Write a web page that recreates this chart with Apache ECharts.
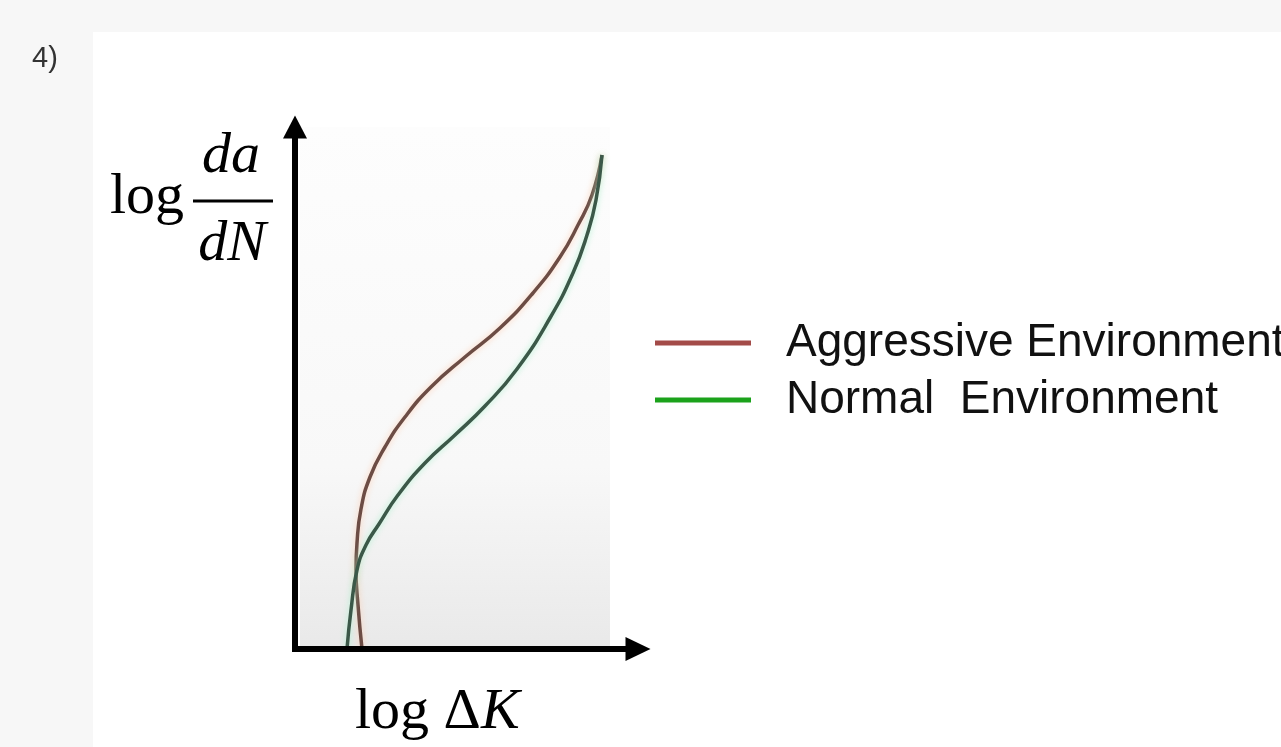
<!DOCTYPE html>
<html>
<head>
<meta charset="utf-8">
<title>log da/dN vs log dK</title>
<script src="https://cdn.jsdelivr.net/npm/echarts/dist/echarts.min.js"></script>
<style>
html,body{margin:0;padding:0;background:#f7f7f7;}
#main{width:1281px;height:747px;}
</style>
</head>
<body>
<div id="main"></div>
<script>
// curve points: [log dK, log da/dN] in plot units
var aggressive = [[67,0],[63,44],[61,79],[62,106],[66,140],[75,172],[90,202],[110,232],[136,262],
	[170,292],[205,321],[238,356],[265,392],[283,424],[297,454],[307,494]];
var normal = [[52,0],[56,39],[62,79],[71,104],[84,125],[103,154],[130,186],[160,214],[190,243],
	[222,280],[255,331],[278,376],[292,414],[301,449],[307,494]];
var seriesNames = ['Aggressive Environment', 'Normal  Environment'];
var curveColors = ['#6c4c44', '#3b5848'];
var legendColors = ['#a34b48', '#1ba21b'];
var xMax = 343, yMax = 522;
// shaded panel behind the curves (plot units)
var panelX = [5, 315];

function drawChart(id){
	var option = {
		backgroundColor: '#f7f7f7',
		animation: false,
		grid: {
			left: 295,
			top: 127,
			right: 643,
			bottom: 98
		},
		xAxis: {
			type: 'value',
			min: 0,
			max: xMax,
			z: 5,
			axisLine: {
				symbol: ['none', 'triangle'],
				symbolSize: [24, 25],
				lineStyle: {color: '#000', width: 6, cap: 'square'}
			},
			axisTick: {show: false},
			axisLabel: {show: false},
			splitLine: {show: false}
		},
		yAxis: {
			type: 'value',
			min: 0,
			max: yMax,
			z: 5,
			axisLine: {
				show: true,
				symbol: ['none', 'triangle'],
				symbolSize: [24, 23],
				lineStyle: {color: '#000', width: 6, cap: 'square'}
			},
			axisTick: {show: false},
			axisLabel: {show: false},
			splitLine: {show: false}
		},
		legend: {
			orient: 'vertical',
			left: 655,
			top: 320,
			padding: 0,
			icon: 'rect',
			itemWidth: 96,
			itemHeight: 5,
			itemGap: 11,
			textStyle: {
				fontFamily: 'Liberation Sans',
				fontSize: 46,
				color: '#111',
				padding: [0, 0, 0, 30]
			},
			data: [
				{name: seriesNames[0], itemStyle: {color: legendColors[0]}, lineStyle: {color: legendColors[0]}},
				{name: seriesNames[1], itemStyle: {color: legendColors[1]}, lineStyle: {color: legendColors[1]}}
			]
		},
		graphic: [
			{type: 'rect', z: -10, shape: {x: 93, y: 32, width: 1188, height: 715}, style: {fill: '#ffffff'}},
			{type: 'text', left: 32, top: 44, style: {text: '4)', font: '29px "Liberation Sans"', fill: '#333'}},
			{type: 'text', x: 110, y: 198, style: {text: 'log', font: '58px "Liberation Serif"', fill: '#000', verticalAlign: 'middle'}},
			{type: 'text', x: 231, y: 157, style: {text: 'da', font: 'italic 58px "Liberation Serif"', fill: '#000', align: 'center', verticalAlign: 'middle'}},
			{type: 'rect', shape: {x: 193, y: 199.5, width: 80, height: 3}, style: {fill: '#000'}},
			{type: 'text', x: 232, y: 245, style: {text: 'dN', font: 'italic 58px "Liberation Serif"', fill: '#000', align: 'center', verticalAlign: 'middle'}},
			{type: 'text', x: 355, y: 713, style: {
				text: '{u|log Δ}{i|K}',
				verticalAlign: 'middle',
				rich: {
					u: {fontFamily: 'Liberation Serif', fontSize: 58, color: '#000'},
					i: {fontFamily: 'Liberation Serif', fontStyle: 'italic', fontSize: 58, color: '#000'}
				}
			}}
		],
		series: [
			{
				name: seriesNames[0],
				type: 'line',
				data: aggressive,
				smooth: 0.5,
				showSymbol: false,
				color: curveColors[0],
				lineStyle: {width: 3.5, color: curveColors[0], shadowBlur: 6, shadowColor: 'rgba(255,200,170,0.8)'},
				markArea: {
					silent: true,
					itemStyle: {
						color: {
							type: 'linear', x: 0, y: 0, x2: 0, y2: 1,
							colorStops: [{offset: 0, color: '#fdfdfd'}, {offset: 0.65, color: '#f8f8f8'}, {offset: 1, color: '#e9e9e9'}]
						}
					},
					data: [[{coord: [panelX[0], 0]}, {coord: [panelX[1], yMax]}]]
				}
			},
			{
				name: seriesNames[1],
				type: 'line',
				data: normal,
				smooth: 0.5,
				showSymbol: false,
				color: curveColors[1],
				lineStyle: {width: 3.5, color: curveColors[1], shadowBlur: 6, shadowColor: 'rgba(160,240,200,0.8)'}
			}
		]
	};
	var myChart = echarts.init(document.getElementById(id));
	myChart.setOption(option);
}

drawChart('main');
</script>
</body>
</html>
